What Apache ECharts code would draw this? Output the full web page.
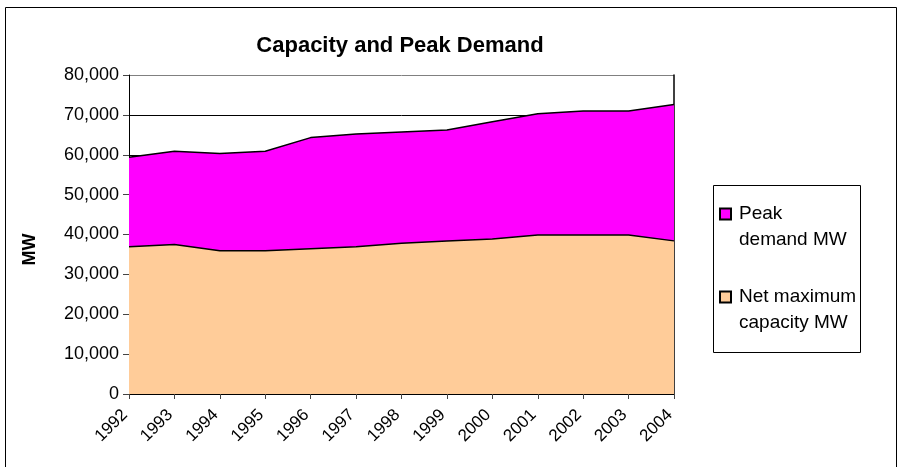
<!DOCTYPE html>
<html>
<head>
<meta charset="utf-8">
<script src="https://cdn.jsdelivr.net/npm/echarts@6/dist/echarts.min.js"></script>
<style>
  html, body { margin: 0; padding: 0; background: #fff; }
  #chart { width: 899px; height: 467px; }
</style>
</head>
<body>
<div id="chart"></div>
<script>
// data
const years = ['1992', '1993', '1994', '1995', '1996', '1997', '1998', '1999', '2000', '2001', '2002', '2003', '2004'];
const peakDemand = [59400, 60900, 60300, 60900, 64300, 65200, 65700, 66200, 68300, 70300, 71000, 71000, 72600];
const netCapacity = [36900, 37500, 35900, 35900, 36400, 36900, 37800, 38400, 38900, 39900, 39900, 39900, 38400];
const seriesNames = ['Peak demand MW', 'Net maximum capacity MW'];
const legendLabels = ['Peak\ndemand MW', 'Net maximum\ncapacity MW'];
const yTicks = [0, 10000, 20000, 30000, 40000, 50000, 60000, 70000, 80000];

const font = "'Liberation Sans', Arial, sans-serif";

const chart = echarts.init(document.getElementById('chart'), null, { renderer: 'canvas' });

// split line colours: black, but the top one is the grey plot border
const splitColors = yTicks.map((v, i) => i === yTicks.length - 1 ? '#808080' : '#000');

const option = {
  animation: false,
  backgroundColor: '#fff',
  title: {
    text: 'Capacity and Peak Demand',
    left: 400,
    top: 35,
    padding: 0,
    textAlign: 'center',
    textStyle: { fontFamily: font, fontSize: 22, fontWeight: 'bold', color: '#000' }
  },
  legend: {
    orient: 'vertical',
    left: 719,
    top: 175,
    padding: 0,
    itemGap: 5,
    itemWidth: 11,
    itemHeight: 11,
    icon: 'rect',
    data: seriesNames,
    formatter: function (name) {
      // blank first line keeps the marker level with the first line of text
      return ' \n' + legendLabels[seriesNames.indexOf(name)];
    },
    textStyle: { fontFamily: font, fontSize: 19, color: '#000', lineHeight: 26, padding: [0, 0, 0, 3] }
  },
  grid: { left: 129, right: 225, top: 75, bottom: 73, containLabel: false },
  xAxis: {
    type: 'category',
    data: years,
    boundaryGap: false,
    axisLine: { lineStyle: { color: '#000', width: 1 } },
    axisTick: { show: true, length: 5, lineStyle: { color: '#444' } },
    axisLabel: {
      rotate: 45,
      margin: 14,
      padding: [0, 6, 0, 0],
      fontFamily: font,
      fontSize: 17,
      color: '#000'
    },
    splitLine: { show: false }
  },
  yAxis: [{
    type: 'value',
    min: 0,
    max: 80000,
    interval: 10000,
    name: 'MW',
    nameLocation: 'middle',
    nameGap: 90,
    nameTextStyle: { fontFamily: font, fontSize: 18, fontWeight: 'bold', color: '#000', padding: [0, 30, 0, 0] },
    axisLine: { show: true, lineStyle: { color: '#000', width: 1 } },
    axisTick: { show: true, length: 6, lineStyle: { color: '#444' } },
    axisLabel: {
      margin: 10,
      fontFamily: font,
      fontSize: 18,
      color: '#000',
      formatter: function (v) { return v.toLocaleString('en-US'); }
    },
    splitLine: { show: true, lineStyle: { color: splitColors, width: 1 } }
  }, {
    type: 'value',
    position: 'right',
    min: 0,
    max: 80000,
    interval: 10000,
    axisLine: { show: true, lineStyle: { color: '#000', width: 1.5 } },
    axisTick: { show: false },
    axisLabel: { show: false },
    splitLine: { show: false }
  }],
  graphic: [
    {
      type: 'rect',
      shape: { x: 5.5, y: 7.5, width: 891, height: 470 },
      style: { fill: 'none', stroke: '#000', lineWidth: 1 },
      silent: true,
      z: -1
    },
    {
      type: 'rect',
      shape: { x: 713.5, y: 185.5, width: 147, height: 167 },
      style: { fill: '#fff', stroke: '#000', lineWidth: 1 },
      silent: true,
      z: -1
    }
  ],
  series: [
    {
      name: seriesNames[0],
      type: 'line',
      data: peakDemand,
      symbol: 'none',
      lineStyle: { color: '#000', width: 1.5 },
      itemStyle: { color: '#FF00FF', borderColor: '#000', borderWidth: 1 },
      areaStyle: { color: '#FF00FF', opacity: 1 }
    },
    {
      name: seriesNames[1],
      type: 'line',
      data: netCapacity,
      symbol: 'none',
      lineStyle: { color: '#000', width: 1.5 },
      itemStyle: { color: '#FFCC99', borderColor: '#000', borderWidth: 1 },
      areaStyle: { color: '#FFCC99', opacity: 1 }
    }
  ]
};

chart.setOption(option);
</script>
</body>
</html>
